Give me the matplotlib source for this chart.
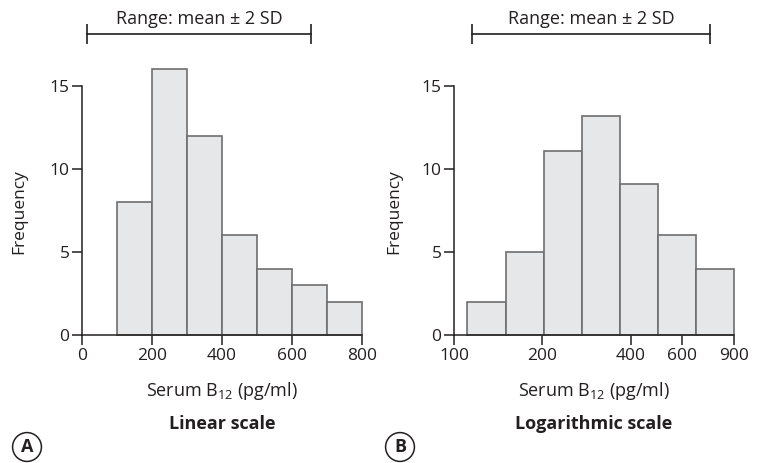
import matplotlib
matplotlib.use('Agg')
import matplotlib.pyplot as plt
import numpy as np

plt.rcParams['font.family'] = ['Open Sans', 'DejaVu Sans']
plt.rcParams['mathtext.fontset'] = 'custom'
plt.rcParams['mathtext.rm'] = 'Open Sans'

# linear scale histogram
lin_edges = [100, 200, 300, 400, 500, 600, 700, 800]
lin_counts = [8, 16, 12, 6, 4, 3, 2]
lin_ticks = [0, 200, 400, 600, 800]
lin_range = [15, 653]

# logarithmic scale histogram
log_edges = [111, 150, 202, 273, 368, 497, 670, 900]
log_counts = [2, 5, 11.1, 13.2, 9.1, 6, 4]
log_ticks = [100, 200, 400, 600, 900]
log_range = [115, 745]

y_ticks = [0, 5, 10, 15]

fill = '#e6e7e8'
edge = '#6e6e6e'
ink = '#231f20'
fs = 12.5
fs_big = 13

W, H = 763, 463
fig = plt.figure(figsize=(W / 100, H / 100), dpi=100)


def make_axes(left_px, right_px):
    # y=0 at pixel 335, 16.6 px per count, up to 17
    bottom = (H - 335) / H
    height = 17 * 16.6 / H
    return fig.add_axes([left_px / W, bottom, (right_px - left_px) / W, height])


def style(ax):
    for s in ['top', 'right']:
        ax.spines[s].set_visible(False)
    for s in ['left', 'bottom']:
        ax.spines[s].set_color(ink)
        ax.spines[s].set_linewidth(1.1)
    ax.spines['left'].set_bounds(0, 15)
    ax.set_ylim(0, 17)
    ax.set_yticks(y_ticks)
    ax.tick_params(length=7, width=1.1, color=ink, labelsize=fs,
                   labelcolor=ink, pad=2)
    ax.set_ylabel('Frequency', fontsize=fs, color=ink)
    ax.set_xlabel(r'Serum B$_{12}$ (pg/ml)', fontsize=fs_big, color=ink)


def draw_hist(ax, edges, counts):
    edges = np.array(edges, dtype=float)
    ax.bar(edges[:-1], counts, width=np.diff(edges), align='edge',
           color=fill, edgecolor=edge, linewidth=1.2, clip_on=False, zorder=2)


def range_bar(ax, lo, hi):
    y = (335 - 34) / 16.6
    ax.plot([lo, hi], [y, y], color=ink, lw=1.2, clip_on=False)
    ax.plot([lo, hi], [y, y], ls='none', marker='|', ms=14, mew=1.2,
            color=ink, clip_on=False)
    mid = np.sqrt(lo * hi) if ax.get_xscale() == 'log' else (lo + hi) / 2
    ax.text(mid, y + 0.92, 'Range: mean \u00b1 2 SD', ha='center',
            va='center', fontsize=fs_big, color=ink)


# A: linear
ax1 = make_axes(82, 362)
draw_hist(ax1, lin_edges, lin_counts)
ax1.set_xlim(0, 800)
ax1.set_xticks(lin_ticks)
style(ax1)
range_bar(ax1, *lin_range)
ax1.yaxis.set_label_coords(-0.195, 0.437)
ax1.xaxis.set_label_coords(0.5, -0.16)
ax1.text(0.5, -0.285, 'Linear scale', transform=ax1.transAxes, ha='center',
         va='top', fontsize=fs_big, fontweight='bold', color=ink)

# B: logarithmic
ax2 = make_axes(454, 734)
ax2.set_xscale('log')
draw_hist(ax2, log_edges, log_counts)
ax2.set_xlim(100, 900)
ax2.set_xticks(log_ticks)
ax2.set_xticklabels([str(t) for t in log_ticks])
ax2.xaxis.set_minor_locator(matplotlib.ticker.NullLocator())
style(ax2)
range_bar(ax2, *log_range)
ax2.yaxis.set_label_coords(-0.185, 0.437)
ax2.xaxis.set_label_coords(0.5, -0.16)
ax2.text(0.5, -0.285, 'Logarithmic scale', transform=ax2.transAxes,
         ha='center', va='top', fontsize=fs_big, fontweight='bold', color=ink)

# panel letters
for x_px, letter in [(27, 'A'), (400, 'B')]:
    fig.text(x_px / W, 1 - 447 / H, letter, ha='center', va='center',
             fontsize=fs_big, fontweight='bold', color=ink,
             bbox=dict(boxstyle='circle,pad=0.3', fc='white', ec=ink, lw=1.1))

fig.savefig('out.png', dpi=100)
